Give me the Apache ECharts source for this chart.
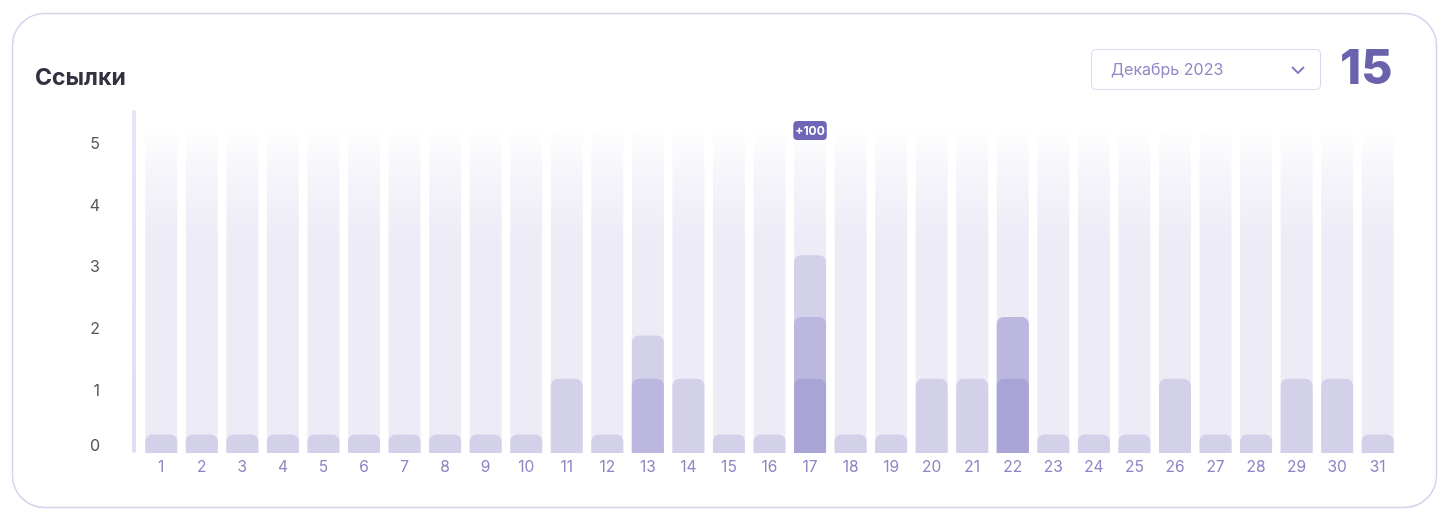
<!DOCTYPE html>
<html>
<head>
<meta charset="utf-8">
<script src="https://cdn.jsdelivr.net/npm/echarts@6/dist/echarts.min.js"></script>
<style>
html,body{margin:0;padding:0;background:#fff;}
#chart{width:1450px;height:521px;}
</style>
</head>
<body>
<div id="chart"></div>
<script>
// ---- data ----
const days = ['1','2','3','4','5','6','7','8','9','10','11','12','13','14','15','16','17','18','19','20','21','22','23','24','25','26','27','28','29','30','31'];
const yTicks = [0, 1, 2, 3, 4, 5];
// cumulative bar heights as drawn (in axis units)
const layerLight = [0.3,0.3,0.3,0.3,0.3,0.3,0.3,0.3,0.3,0.3,1.2,0.3,1.9,1.2,0.3,0.3,3.2,0.3,0.3,1.2,1.2,2.2,0.3,0.3,0.3,1.2,0.3,0.3,1.2,1.2,0.3];
const layerMid   = [null,null,null,null,null,null,null,null,null,null,null,null,1.2,null,null,null,2.2,null,null,null,null,2.2,null,null,null,null,null,null,null,null,null];
const layerDark  = [null,null,null,null,null,null,null,null,null,null,null,null,null,null,null,null,1.2,null,null,null,null,1.2,null,null,null,null,null,null,null,null,null];
const trackMax = 5.26;
const badgeDay = '17';
const badgeText = '+100';
const titleText = 'Ссылки';
const monthText = 'Декабрь 2023';
const totalText = '15';

const chart = echarts.init(document.getElementById('chart'));
const FONT = 'Inter, "Noto Sans", sans-serif';

const trackData = days.map(d => d === badgeDay ? {
  value: trackMax,
  label: {
    show: true, position: 'insideTop', offset: [0, -12],
    formatter: badgeText,
    color: '#fff', fontSize: 12, fontWeight: 'bold', fontFamily: FONT,
    backgroundColor: '#6F66B8', borderRadius: 4, padding: [4, 2, 3, 2]
  }
} : trackMax);

chart.setOption({
  animation: false,
  grid: { left: 141, right: 52, top: 128, bottom: 68 },
  xAxis: {
    type: 'category',
    data: days,
    axisLine: { show: false },
    axisTick: { show: false },
    axisLabel: { color: '#8C86C4', fontSize: 15.5, fontFamily: FONT, margin: 6 }
  },
  yAxis: {
    type: 'value',
    min: 0, max: trackMax, interval: 1,
    splitLine: { show: false },
    axisLine: { show: false },
    axisTick: { show: false },
    axisLabel: {
      color: '#555560', fontSize: 16, fontFamily: FONT, margin: 41,
      showMaxLabel: false,
      formatter: v => {
        if (yTicks.indexOf(v) < 0) return '';
        return v === 0 ? '{z|0}' : String(v);
      },
      rich: { z: { color: '#555560', fontSize: 16, fontFamily: FONT, padding: [0, 0, 14, 0] } }
    }
  },
  series: [
    {
      type: 'bar', name: 'track', data: trackData, barWidth: 32, barGap: '-100%', z: 1,
      itemStyle: {
        borderRadius: [8, 8, 0, 0],
        color: new echarts.graphic.LinearGradient(0, 0, 0, 1, [
          { offset: 0, color: 'rgba(237,235,246,0)' },
          { offset: 0.12, color: 'rgba(237,235,246,0.45)' },
          { offset: 0.34, color: '#EDEBF6' },
          { offset: 1, color: '#EDEBF6' }
        ])
      },
      silent: true
    },
    {
      type: 'bar', name: 'light', data: layerLight, barWidth: 32, barGap: '-100%', z: 2,
      itemStyle: { color: '#D3D0EA', borderRadius: [7, 7, 0, 0] }
    },
    {
      type: 'bar', name: 'mid', data: layerMid, barWidth: 32, barGap: '-100%', z: 3,
      itemStyle: { color: '#BCB7DF', borderRadius: [7, 7, 0, 0] }
    },
    {
      type: 'bar', name: 'dark', data: layerDark, barWidth: 32, barGap: '-100%', z: 4,
      itemStyle: { color: '#A9A4D6', borderRadius: [7, 7, 0, 0] }
    }
  ],
  graphic: [
    {
      type: 'rect', z: -10, silent: true,
      shape: { x: 12.5, y: 13.5, width: 1424, height: 494, r: 32 },
      style: { fill: '#fff', stroke: '#D6D3EC', lineWidth: 1.5 }
    },
    {
      type: 'rect', z: 5, silent: true,
      shape: { x: 132, y: 110, width: 4, height: 343, r: 2 },
      style: { fill: new echarts.graphic.LinearGradient(0, 0, 0, 1, [
        { offset: 0, color: '#E6E4F7' }, { offset: 1, color: '#E0DEF4' }
      ]) }
    },
    {
      type: 'text', left: 35, top: 67, z: 10,
      style: { text: titleText, fill: '#33313F', font: 'bold 23px ' + FONT }
    },
    {
      type: 'rect', z: 10, silent: true,
      shape: { x: 1091.5, y: 49.5, width: 229, height: 40, r: 4 },
      style: { fill: '#fff', stroke: '#D9D7EA', lineWidth: 1 }
    },
    {
      type: 'text', left: 1111, top: 62, z: 11,
      style: { text: monthText, fill: '#8F89C9', font: '16px ' + FONT }
    },
    {
      type: 'polyline', z: 11, silent: true,
      shape: { points: [[1292, 67], [1298, 73], [1304, 67]] },
      style: { stroke: '#7D76BE', lineWidth: 1.8, fill: null }
    },
    {
      type: 'text', left: 1340, top: 46, z: 11,
      style: { text: totalText, fill: '#6B62AD', font: '800 48px ' + FONT }
    }
  ]
});
</script>
</body>
</html>
